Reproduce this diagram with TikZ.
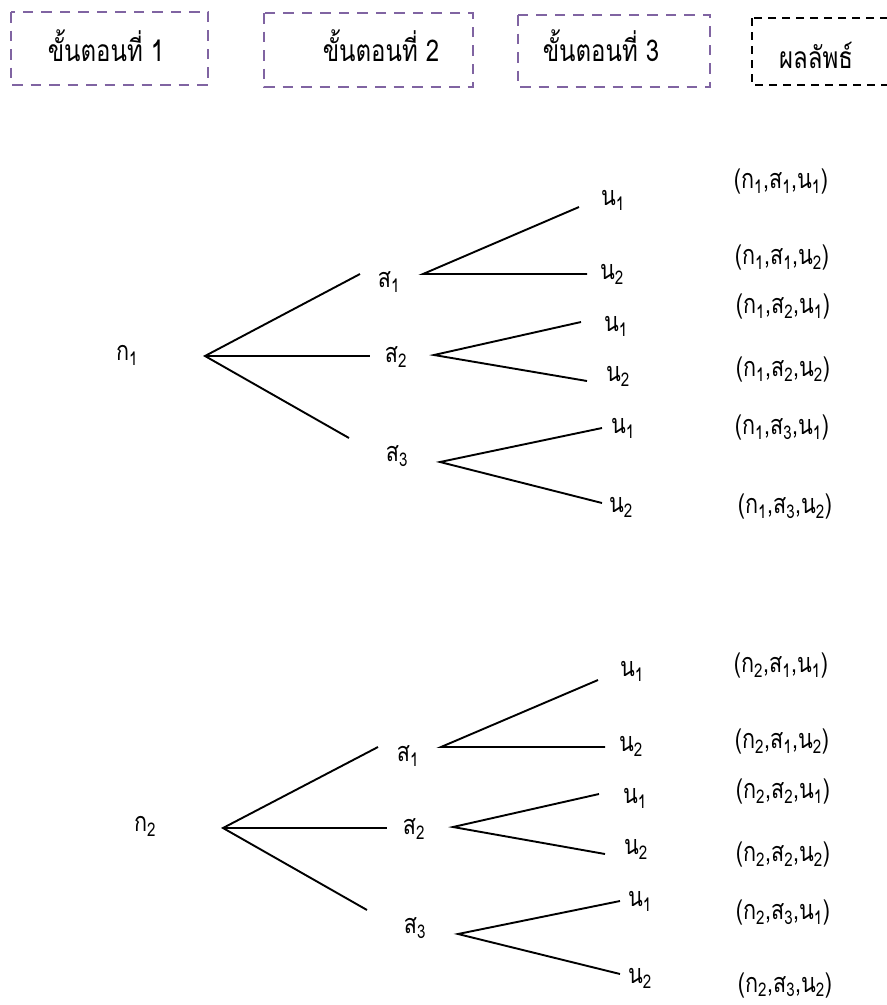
\documentclass[tikz,border=0pt]{standalone}
\usepackage{fontspec}
\usepackage[]{xcolor}
\newfontfamily\thaifont[Script=Thai,FakeStretch=0.8]{Loma}
\definecolor{stepviolet}{RGB}{128,100,162}
\newcommand{\ix}[1]{\textsubscript{#1}}

\begin{document}
\begin{tikzpicture}[x=1pt,y=-1pt,
    every node/.style={font=\thaifont\fontsize{27}{32}\selectfont, inner sep=0pt},
    steptext/.style={font=\thaifont\fontsize{30}{34}\selectfont},
    stepbox/.style={draw=stepviolet, line width=2.6pt, dash pattern=on 10.5pt off 8pt},
    resbox/.style={draw=black, line width=2pt, dash pattern=on 8pt off 6pt},
    branch/.style={line width=1.9pt}]
      \clip (0,0) rectangle (887,1005);
      % header boxes
      \draw[stepbox] ( 11,12) rectangle (208,85);
      \draw[stepbox] (264,13) rectangle (473,87);
      \draw[stepbox] (518,15) rectangle (710,87);
      \draw[resbox]  (752,18) rectangle (900,85);
      \node[steptext] (h1) at (106,46) {ขั้นตอนที่ 1};
      \node[steptext] (h2) at (381,46) {ขั้นตอนที่ 2};
      \node[steptext] (h3) at (601,46) {ขั้นตอนที่ 3};
      \node[steptext] (h4) at (816,55) {ผลลัพธ์};

      % first tree
      \node (k1)   at (127,355) {ก\ix{1}};
      \node (s11)  at (389,282) {ส\ix{1}};
      \node (s12)  at (396,357) {ส\ix{2}};
      \node (s13)  at (397,456) {ส\ix{3}};
      \node (n111) at (613,200) {น\ix{1}};
      \node (n112) at (612,274) {น\ix{2}};
      \node (n121) at (616,326) {น\ix{1}};
      \node (n122) at (618,376) {น\ix{2}};
      \node (n131) at (623,428) {น\ix{1}};
      \node (n132) at (621,507) {น\ix{2}};
      \node (r111) at (781,182) {(ก\ix{1},ส\ix{1},น\ix{1})};
      \node (r112) at (782,258) {(ก\ix{1},ส\ix{1},น\ix{2})};
      \node (r121) at (783,307) {(ก\ix{1},ส\ix{2},น\ix{1})};
      \node (r122) at (783,370) {(ก\ix{1},ส\ix{2},น\ix{2})};
      \node (r131) at (782,428) {(ก\ix{1},ส\ix{3},น\ix{1})};
      \node (r132) at (785,507) {(ก\ix{1},ส\ix{3},น\ix{2})};
      \coordinate (k1f)  at (205,356);
      \coordinate (k1a)  at (360,274);
      \coordinate (k1b)  at (370,356);
      \coordinate (k1c)  at (349,438);
      \coordinate (s11f) at (423,274);
      \coordinate (s11a) at (579,207);
      \coordinate (s11b) at (587,274);
      \coordinate (s12f) at (434,355);
      \coordinate (s12a) at (581,322);
      \coordinate (s12b) at (587,381);
      \coordinate (s13f) at (440,462);
      \coordinate (s13a) at (602,428);
      \coordinate (s13b) at (602,503);
      \draw[branch] (k1a) -- (k1f) -- (k1c);
      \draw[branch] (k1f) -- (k1b);
      \draw[branch] (s11a) -- (s11f) -- (s11b);
      \draw[branch] (s12a) -- (s12f) -- (s12b);
      \draw[branch] (s13a) -- (s13f) -- (s13b);

      % second tree
      \node (k2)   at (145,826) {ก\ix{2}};
      \node (s21)  at (408,756) {ส\ix{1}};
      \node (s22)  at (414,829) {ส\ix{2}};
      \node (s23)  at (415,928) {ส\ix{3}};
      \node (n211) at (632,671) {น\ix{1}};
      \node (n212) at (631,746) {น\ix{2}};
      \node (n221) at (635,798) {น\ix{1}};
      \node (n222) at (636,849) {น\ix{2}};
      \node (n231) at (640,901) {น\ix{1}};
      \node (n232) at (640,978) {น\ix{2}};
      \node (r211) at (781,666) {(ก\ix{2},ส\ix{1},น\ix{1})};
      \node (r212) at (782,742) {(ก\ix{2},ส\ix{1},น\ix{2})};
      \node (r221) at (783,792) {(ก\ix{2},ส\ix{2},น\ix{1})};
      \node (r222) at (783,855) {(ก\ix{2},ส\ix{2},น\ix{2})};
      \node (r231) at (783,913) {(ก\ix{2},ส\ix{3},น\ix{1})};
      \node (r232) at (785,985) {(ก\ix{2},ส\ix{3},น\ix{2})};
      \coordinate (k2f)  at (223,828);
      \coordinate (k2a)  at (378,747);
      \coordinate (k2b)  at (387,828);
      \coordinate (k2c)  at (367,910);
      \coordinate (s21f) at (441,747);
      \coordinate (s21a) at (598,680);
      \coordinate (s21b) at (605,747);
      \coordinate (s22f) at (453,827);
      \coordinate (s22a) at (599,794);
      \coordinate (s22b) at (605,854);
      \coordinate (s23f) at (458,934);
      \coordinate (s23a) at (620,901);
      \coordinate (s23b) at (620,974);
      \draw[branch] (k2a) -- (k2f) -- (k2c);
      \draw[branch] (k2f) -- (k2b);
      \draw[branch] (s21a) -- (s21f) -- (s21b);
      \draw[branch] (s22a) -- (s22f) -- (s22b);
      \draw[branch] (s23a) -- (s23f) -- (s23b);
\end{tikzpicture}
\end{document}
